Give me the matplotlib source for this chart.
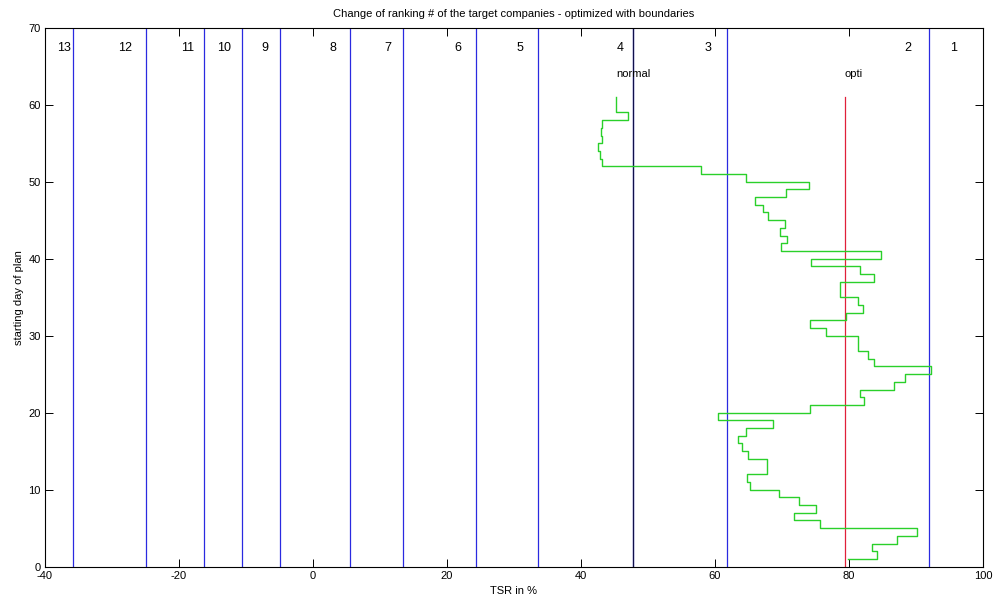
"""Ranking bands of the target companies against plan start day, TSR path as stairs."""

import matplotlib

matplotlib.use("Agg")
import matplotlib.pyplot as plt

plt.rcParams["font.family"] = ["Liberation Sans", "DejaVu Sans"]
plt.rcParams["axes.unicode_minus"] = False

# Starting day of the plan and the TSR (%) reached for that start day.
days = list(range(1, 62))
tsr = [
    79.8, 84.2, 83.4, 87.1, 90.1, 75.7, 71.8, 75.1, 72.6, 69.5,
    65.2, 64.8, 67.8, 67.8, 65.0, 64.0, 63.4, 64.7, 68.7, 60.4,
    74.2, 82.2, 81.6, 86.7, 88.4, 92.2, 83.7, 82.9, 81.4, 81.4,
    76.6, 74.2, 79.5, 82.1, 81.4, 78.6, 78.6, 83.7, 81.7, 74.3,
    84.7, 69.8, 70.8, 69.7, 70.4, 67.9, 67.1, 65.9, 70.6, 74.1,
    64.6, 57.9, 43.2, 42.8, 42.5, 43.2, 43.0, 43.2, 47.0, 45.3,
    45.3,
]

# TSR thresholds separating the ranking places, and the rank label per band.
boundaries = [-35.8, -24.9, -16.2, -10.6, -4.9, 5.5, 13.5, 24.3, 33.6, 47.8, 61.8, 91.9]
rank_labels = ["13", "12", "11", "10", "9", "8", "7", "6", "5", "4", "3", "2", "1"]
rank_label_x = [-37.2, -28.0, -18.7, -13.2, -7.1, 3.0, 11.2, 21.6, 30.9, 45.8, 59.0, 88.8, 95.6]
rank_label_y = 67.4

normal_tsr = 47.8
opti_tsr = 79.45
reference_top = 61

fig = plt.figure(figsize=(9.97, 6.01), dpi=100)
ax = fig.add_axes([0.0449, 0.0571, 0.9411, 0.8968])

for b in boundaries:
    ax.axvline(b, color="#2a2ae0", lw=0.9)
ax.axvline(normal_tsr, color="#10104a", lw=0.9)
ax.plot([opti_tsr, opti_tsr], [0, reference_top], color="#e0203a", lw=0.9)

ax.step(tsr, days, where="post", color="#2ad02a", lw=1.0)

for lab, lx in zip(rank_labels, rank_label_x):
    ax.text(lx, rank_label_y, lab, ha="center", va="center", fontsize=9)
ax.text(45.3, 64.0, "normal", ha="left", va="center", fontsize=8)
ax.text(79.4, 64.0, "opti", ha="left", va="center", fontsize=8)

ax.set_xlim(-40, 100)
ax.set_ylim(0, 70)
ax.set_xticks(range(-40, 101, 20))
ax.set_yticks(range(0, 71, 10))
ax.tick_params(direction="in", length=5.8, width=0.7, top=True, right=True,
               labelsize=8, pad=3)
for spine in ax.spines.values():
    spine.set_linewidth(0.8)

ax.set_title("Change of ranking # of the target companies - optimized with boundaries",
             fontsize=8, pad=8)
ax.set_xlabel("TSR in %", fontsize=8, labelpad=4)
ax.set_ylabel("starting day of plan", fontsize=8, labelpad=3)

fig.savefig("out.png", dpi=100)
